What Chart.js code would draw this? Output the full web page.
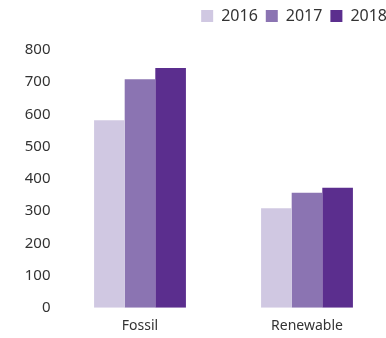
<!DOCTYPE html>
<html>
<head>
<meta charset="utf-8">
<script src="https://cdn.jsdelivr.net/npm/chart.js@4/dist/chart.umd.min.js"></script>
<style>
    html, body { margin: 0; padding: 0; background: #fff; overflow: hidden; }
    #wrap { width: 395px; height: 338px; }
</style>
</head>
<body>
<div id="wrap"><canvas id="chart" width="395" height="338"></canvas></div>
<script>
// Power generation capacity by source
const categories = ['Fossil', 'Renewable'];
const years = ['2016', '2017', '2018'];
const values2016 = [582, 309];
const values2017 = [709, 357];
const values2018 = [744, 372];
const yearColors = ['#d0c8e2', '#8b74b2', '#5b2e8e'];

const seriesValues = [values2016, values2017, values2018];
const textColor = '#333333';
const fontFamily = '"Noto Sans", sans-serif';

// extra room between the legend row and the plot
const legendGap = {
    id: 'legendGap',
    beforeInit(chart) {
        const fit = chart.legend.fit;
        chart.legend.fit = function () {
            fit.bind(chart.legend)();
            this.height += 16;
        };
    }
};

new Chart(document.getElementById('chart').getContext('2d'), {
    type: 'bar',
    data: {
        labels: categories,
        datasets: years.map((year, i) => ({
            label: year,
            data: seriesValues[i],
            backgroundColor: yearColors[i],
            borderWidth: 0,
            categoryPercentage: 0.55,
            barPercentage: 1.0
        }))
    },
    options: {
        responsive: false,
        animation: false,
        layout: { padding: 0 },
        plugins: {
            tooltip: { enabled: false },
            legend: {
                position: 'top',
                align: 'end',
                labels: {
                    boxWidth: 12,
                    boxHeight: 12,
                    padding: 8,
                    color: textColor,
                    font: { family: fontFamily, size: 16 }
                }
            }
        },
        scales: {
            x: {
                grid: { display: false, drawTicks: false },
                border: { display: false },
                ticks: {
                    color: textColor,
                    padding: 10,
                    font: { family: fontFamily, size: 14 }
                },
                afterFit: axis => { axis.height = 30.3; }
            },
            y: {
                min: 0,
                max: 800,
                grid: { display: false, drawTicks: false },
                border: { display: false },
                ticks: {
                    stepSize: 100,
                    color: textColor,
                    padding: 6,
                    font: { family: fontFamily, size: 15 }
                },
                afterFit: axis => { axis.width = 56.5; }
            },
            // empty right-hand axis, only reserves space past the last group
            yRight: {
                position: 'right',
                grid: { display: false, drawTicks: false },
                border: { display: false },
                ticks: { display: false },
                afterFit: axis => { axis.width = 4.5; }
            }
        }
    },
    plugins: [legendGap]
});
</script>
</body>
</html>
